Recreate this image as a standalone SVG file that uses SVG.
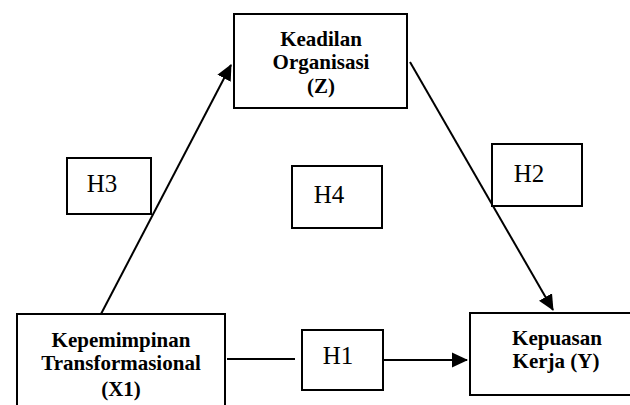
<svg xmlns="http://www.w3.org/2000/svg" width="630" height="405" viewBox="0 0 630 405">
<defs>
<style>
.box{fill:#fff;stroke:#000;stroke-width:2}
.lbl{font-family:'Liberation Serif','DejaVu Serif',serif;font-weight:bold;font-size:21px;text-anchor:middle;fill:#000}
.h{font-family:'Liberation Serif','DejaVu Serif',serif;font-size:25px;text-anchor:middle;fill:#000}
.ln{stroke:#000;stroke-width:2;fill:none}
</style>
<marker id="ah" markerUnits="userSpaceOnUse" markerWidth="16" markerHeight="16" viewBox="0 0 16 16" refX="15" refY="8" orient="auto">
<path d="M0,0.5 L16,8 L0,15.5 Z" fill="#000"/>
</marker>
</defs>
<rect width="630" height="405" fill="#fff"/>
<g id="connectors">
<line class="ln" x1="101" y1="314" x2="231" y2="65" marker-end="url(#ah)"/>
<line class="ln" x1="410" y1="62" x2="553" y2="310" marker-end="url(#ah)"/>
<line class="ln" x1="227" y1="359" x2="295" y2="359"/>
<line class="ln" x1="384" y1="360" x2="467" y2="360" marker-end="url(#ah)"/>
</g>
<g id="node-z">
<rect class="box" x="234" y="14" width="173" height="94"/>
<text class="lbl" x="321" y="46">Keadilan</text>
<text class="lbl" x="321" y="69">Organisasi</text>
<text class="lbl" x="321" y="93">(Z)</text>
</g>
<g id="node-x1">
<rect class="box" x="17" y="314" width="208" height="110"/>
<text class="lbl" x="121" y="347">Kepemimpinan</text>
<text class="lbl" x="121" y="370">Transformasional</text>
<text class="lbl" x="121" y="396">(X1)</text>
</g>
<g id="node-y">
<rect class="box" x="470" y="313" width="180" height="82"/>
<text class="lbl" x="557" y="345">Kepuasan</text>
<text class="lbl" x="556" y="368">Kerja (Y)</text>
</g>
<g id="h1">
<rect class="box" x="302" y="330" width="81" height="60"/>
<text class="h" x="338" y="364">H1</text>
</g>
<g id="h2">
<rect class="box" x="492" y="144" width="90" height="62"/>
<text class="h" x="529" y="182">H2</text>
</g>
<g id="h3">
<rect class="box" x="67" y="158" width="84" height="56"/>
<text class="h" x="102" y="192">H3</text>
</g>
<g id="h4">
<rect class="box" x="292" y="166" width="90" height="62"/>
<text class="h" x="329" y="203">H4</text>
</g>
</svg>
